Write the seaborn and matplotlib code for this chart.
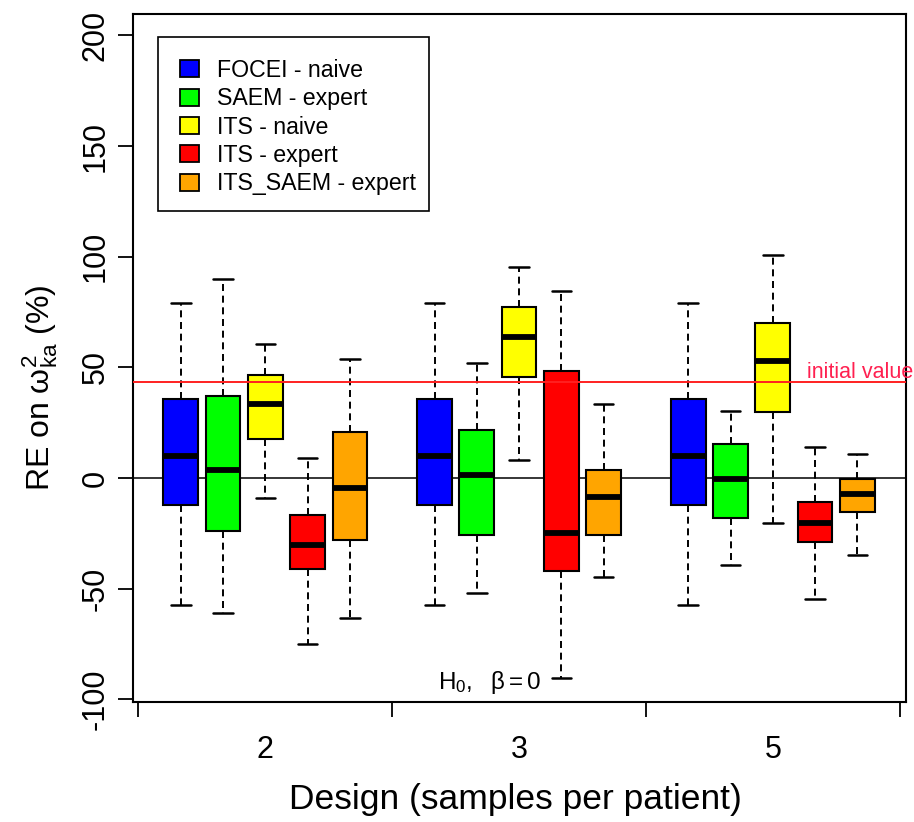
import numpy as np
import pandas as pd
import matplotlib
matplotlib.use("Agg")
import matplotlib.pyplot as plt
import seaborn as sns
from matplotlib.patches import Patch, Rectangle

# ---------------- data ----------------
designs = ["2", "3", "5"]
methods = ["FOCEI - naive", "SAEM - expert", "ITS - naive", "ITS - expert", "ITS_SAEM - expert"]
colors = ["#0000FF", "#00FF00", "#FFFF00", "#FF0000", "#FFA500"]

# five-number summaries per design: [lower whisker, Q1, median, Q3, upper whisker]
focei_naive = [[-57.4, -12.3, 9.8, 35.8, 79.1],
               [-57.4, -12.3, 9.8, 35.8, 79.1],
               [-57.4, -12.3, 9.9, 35.8, 79.1]]
saem_expert = [[-60.8, -24.1, 3.6, 36.9, 89.8],
               [-52.0, -25.9, 1.5, 21.5, 52.0],
               [-39.5, -17.9, -0.6, 15.4, 30.4]]
its_naive = [[-8.9, 17.8, 33.3, 46.5, 60.8],
             [8.1, 45.6, 63.7, 77.1, 95.2],
             [-20.5, 29.7, 53.0, 69.9, 100.6]]
its_expert = [[-75.2, -41.3, -30.4, -16.9, 9.0],
              [-90.4, -42.0, -25.0, 48.4, 84.4],
              [-54.5, -28.8, -20.5, -10.7, 14.1]]
its_saem_expert = [[-63.4, -27.9, -4.4, 20.6, 53.9],
                   [-44.7, -25.9, -8.7, 3.6, 33.3],
                   [-34.9, -15.4, -7.1, -0.3, 10.7]]

initial_value = 43.3
null_value = 0
yticks = [-100, -50, 0, 50, 100, 150, 200]

series = [focei_naive, saem_expert, its_naive, its_expert, its_saem_expert]

rows = []
for d, dname in enumerate(designs):
    for m, mname in enumerate(methods):
        pos = d * 6 + m + 1
        for v in series[m][d]:
            rows.append({"pos": pos, "value": v, "method": mname, "design": dname})
df = pd.DataFrame(rows)

# ---------------- figure ----------------
sns.set_style("ticks")
plt.rcParams["font.family"] = ["Liberation Sans", "DejaVu Sans"]
plt.rcParams["mathtext.fontset"] = "custom"
plt.rcParams["mathtext.rm"] = "Liberation Sans"
plt.rcParams["mathtext.it"] = "Liberation Sans:italic"
plt.rcParams["mathtext.bf"] = "Liberation Sans:bold"
for k in ["text.color", "axes.labelcolor", "xtick.color", "ytick.color", "axes.edgecolor"]:
    plt.rcParams[k] = "black"

W, H = 914, 822
fig = plt.figure(figsize=(W / 100, H / 100), dpi=100)
ax = fig.add_axes([133 / W, 1 - 702 / H, (906 - 133) / W, (702 - 14) / H])

sns.boxplot(data=df, x="pos", y="value", hue="method", hue_order=methods,
            palette=colors, native_scale=True, dodge=False, whis=(0, 100),
            width=0.82, linecolor="black", linewidth=1.5, legend=False,
            saturation=1, ax=ax,
            medianprops={"linewidth": 4.2, "color": "black", "solid_capstyle": "butt"},
            whiskerprops={"linestyle": (0, (3.6, 2.4)), "linewidth": 1.4},
            capprops={"linewidth": 1.8},
            capwidths=0.46)

ax.axhline(null_value, color="black", linewidth=1.1, zorder=0.5)
ax.axhline(initial_value, color="#FF2020", linewidth=1.4, zorder=3)
ax.text(15.8, initial_value + 4.2, "initial value", color="#FF2050", fontsize=15.5,
        ha="left", va="center", clip_on=False)
ax.text(7.08, -92.2, r"$\mathregular{H_0,\ \ \beta = 0}$", fontsize=17.5,
        ha="left", va="center")

ax.set_xlim(-0.13, 18.15)
ax.set_ylim(-101.2, 209.7)

ax.set_xticks([0, 6, 12, 18])
ax.set_xticklabels([])
ax.set_xticks([3, 9, 15], minor=True)
ax.set_xticklabels(designs, minor=True)
ax.tick_params(axis="x", which="major", length=11, width=1.3, direction="out", color="black")
ax.tick_params(axis="x", which="minor", length=0, pad=24, labelsize=22)

ax.set_yticks(yticks)
ax.set_yticklabels([str(t) for t in yticks], rotation=90, va="center")
ax.tick_params(axis="y", length=11, width=1.3, direction="out", pad=5, labelsize=22, color="black")

for sp in ax.spines.values():
    sp.set_visible(True)
    sp.set_color("black")
    sp.set_linewidth(1.5)

ax.set_xlabel("Design (samples per patient)", fontsize=25.5)
ax.xaxis.set_label_coords(0.495, -0.118)
ax.set_ylabel(r"RE on $\mathregular{\omega^2_{ka}}$ (%)", fontsize=23)
ax.yaxis.set_label_coords(-0.094, 0.456)

# legend
handles = [Patch(facecolor=c, edgecolor="black", linewidth=1.3) for c in colors]
leg = fig.legend(handles, methods, loc="upper left",
                 bbox_to_anchor=(180 / W, 1 - 59 / H), bbox_transform=fig.transFigure,
                 frameon=False, fontsize=16.7, handlelength=0.8, handleheight=0.74,
                 handletextpad=0.8, labelspacing=0.23, borderaxespad=0, borderpad=0)
fig.add_artist(Rectangle((158 / W, 1 - 211 / H), (429 - 158) / W, (211 - 37) / H,
                         transform=fig.transFigure, fill=False, edgecolor="black",
                         linewidth=1.2))

fig.savefig("out.png", dpi=100)
